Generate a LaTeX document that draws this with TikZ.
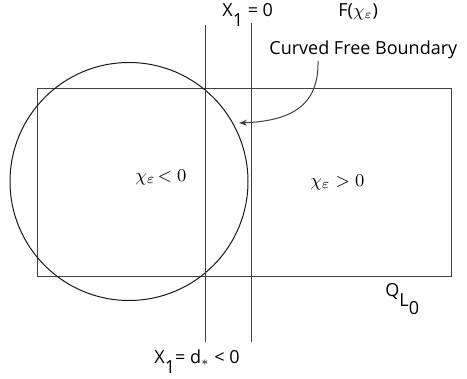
\documentclass[tikz,border=0pt]{standalone}
\usepackage{amsmath}
\usepackage{amssymb}
\usepackage{fontspec}
\newfontfamily\labelfont{Open Sans}
\usetikzlibrary{arrows.meta}

\tikzset{
  edge/.style={line width=0.5pt, black!75},
  sanslabel/.style={font=\labelfont\fontsize{9}{10}\selectfont, inner sep=0pt, anchor=base west},
  mathlabel/.style={font=\fontsize{9.5}{10}\selectfont, inner sep=0pt, anchor=base west}
}

\begin{document}
\begin{tikzpicture}[x=0.5pt,y=-0.5pt]
  \useasboundingbox (0,0) rectangle (467,379);

  % the box Q_{L_0}
  \draw[edge] (37,89) rectangle (451,277);
  % zero set of chi
  \draw[edge, black!90] (129,181.5) circle[radius=119];

  % the lines x_1 = d_* and x_1 = 0
  \coordinate (dtop) at (205,25);
  \coordinate (dbot) at (205,342);
  \coordinate (ztop) at (251,23);
  \coordinate (zbot) at (251,342);
  \draw[edge] (dtop) -- (dbot);
  \draw[edge] (ztop) -- (zbot);

  % labels
  \node[sanslabel] (xzero) at (222,17) {X\raisebox{-5pt}{1} = 0};
  \node[sanslabel] (fchi) at (338,17) {F($\chi_\varepsilon$)};
  \node[sanslabel] (fb) at (269,55) {Curved Free Boundary};
  \node[sanslabel] (xd) at (154,364) {X\raisebox{-5pt}{1}= d$_*$ < 0};
  \node[sanslabel] (ql) at (385,297) {Q\raisebox{-5pt}{L\raisebox{-4pt}{0}}};
  \node[mathlabel] (neg) at (135,182) {$\chi_\varepsilon\!< 0$};
  \node[mathlabel] (pos) at (310,187) {$\chi_\varepsilon > 0$};

  % arrow to the boundary
  \coordinate (astart) at (318,61);
  \coordinate (atip) at (239,123);
  \draw[edge, -{Stealth[length=4pt,width=3pt]}] (astart) .. controls (319,105) and (292,121) .. (atip);
\end{tikzpicture}
\end{document}
